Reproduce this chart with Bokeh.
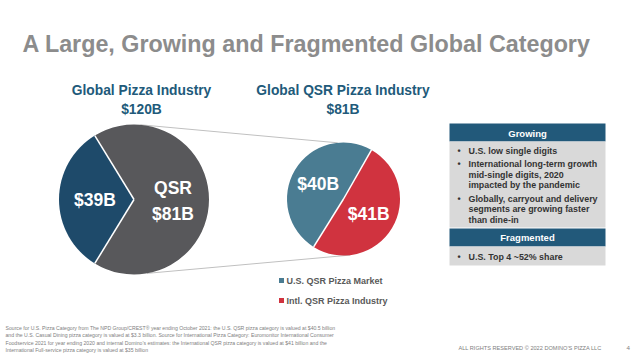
import numpy as np
from bokeh.plotting import figure
from bokeh.models import Range1d, Label, ColumnDataSource
from bokeh.embed import file_html
from bokeh.resources import INLINE

W, H = 640, 356

# ---------------- data ----------------
title_text = "A Large, Growing and Fragmented Global Category"
global_title = ["Global Pizza Industry", "$120B"]
global_labels = ["Casual Dining", "QSR"]
global_values = [39, 81]
qsr_title = ["Global QSR Pizza Industry", "$81B"]
qsr_labels = ["U.S. QSR Pizza Market", "Intl. QSR Pizza Industry"]
qsr_values = [40, 41]
growing_header = "Growing"
growing_items = [
    ["U.S. low single digits"],
    ["International long-term growth", "mid-single digits, 2020", "impacted by the pandemic"],
    ["Globally, carryout and delivery", "segments are growing faster", "than dine-in"],
]
fragmented_header = "Fragmented"
fragmented_items = [["U.S. Top 4 ~52% share"]]
footnote_lines = [
    "Source for U.S. Pizza Category from The NPD Group/CREST\u00ae  year ending October 2021: the U.S. QSR pizza category is valued at $40.5 billion",
    "and the U.S. Casual Dining pizza category is valued at $3.3 billion. Source for International Pizza Category: Euromonitor International Consumer",
    "Foodservice 2021 for year ending 2020 and internal Domino\u2019s estimates: the International QSR pizza category is valued at $41 billion and the",
    "International Full-service pizza category is valued at $35 billion",
]
copyright_text = "ALL RIGHTS RESERVED \u00a9 2022 DOMINO\u2019S PIZZA LLC"
page_number = "4"

# ---------------- style ----------------
FONT = "Liberation Sans"
TITLE_GRAY = "#8c8c8c"
SUB_BLUE = "#215a7a"
global_colors = ["#1e4a6a", "#58585b"]
qsr_colors = ["#4a7c92", "#d0333f"]
HEAD_BLUE = "#22597a"
BODY_GRAY = "#d9d9d9"
TEXT_DARK = "#333333"


def Y(y):
    return H - y


p = figure(width=W, height=H, x_range=Range1d(0, W), y_range=Range1d(0, H),
           output_backend="svg", toolbar_location=None, min_border=0)
p.axis.visible = False
p.grid.visible = False
p.outline_line_color = None
p.background_fill_color = "white"
p.border_fill_color = "white"


def label(x, y, text, size, color, bold=True, align="center", font=FONT):
    p.add_layout(Label(x=x, y=Y(y), text=text, text_font=font,
                       text_font_size=f"{size}px",
                       text_font_style="bold" if bold else "normal",
                       text_color=color, text_align=align,
                       text_baseline="middle"))


# title
label(22, 43, title_text, 23.3, TITLE_GRAY, align="left")

# ---------------- pies ----------------
def pie(cx, cy, r, values, colors, start_deg):
    vals = np.array(values, dtype=float)
    fr = vals / vals.sum()
    ends = np.deg2rad(start_deg) + np.cumsum(fr) * 2 * np.pi
    starts = ends - fr * 2 * np.pi
    src = ColumnDataSource(dict(start=starts, end=ends, color=colors))
    p.wedge(x=cx, y=Y(cy), radius=r, radius_units="screen",
            start_angle="start", end_angle="end", fill_color="color",
            line_color=None, source=src)
    # white separators
    p.segment(x0=[cx] * len(starts), y0=[Y(cy)] * len(starts),
              x1=list(cx + r * np.cos(starts)), y1=list(Y(cy) + r * np.sin(starts)),
              line_color="white", line_width=1.5)
    return (starts + ends) / 2


gcx, gcy, gr = 133.5, 199, 75
qcx, qcy, qr = 343, 198.5, 56.5

# connector lines (behind pies)
a1, a2 = np.deg2rad(85), np.deg2rad(96)
b1, b2 = np.deg2rad(-80), np.deg2rad(-83)
p.segment(x0=[gcx + gr * np.cos(a1), gcx + gr * np.cos(b1)],
          y0=[Y(gcy) + gr * np.sin(a1), Y(gcy) + gr * np.sin(b1)],
          x1=[qcx + qr * np.cos(a2), qcx + qr * np.cos(b2)],
          y1=[Y(qcy) + qr * np.sin(a2), Y(qcy) + qr * np.sin(b2)],
          line_color="#c0c0c0", line_width=1)

g_start = 180 - global_values[0] / sum(global_values) * 180
gm = pie(gcx, gcy, gr, global_values, global_colors, g_start)
qm = pie(qcx, qcy, qr, qsr_values, qsr_colors, 60.3)

# slice labels
PIE_FS = 17.5
lx = gcx + 0.52 * gr * np.cos(gm[0]); ly = gcy - 0.52 * gr * np.sin(gm[0])
label(lx, ly, f"${global_values[0]}B", PIE_FS, "white")
lx = gcx + 0.52 * gr * np.cos(gm[1]); ly = gcy - 0.52 * gr * np.sin(gm[1])
label(lx, ly - 12, "QSR", PIE_FS, "white")
label(lx, ly + 14, f"${global_values[1]}B", PIE_FS, "white")
for m, v in zip(qm, qsr_values):
    lx = qcx + 0.52 * qr * np.cos(m); ly = qcy - 0.52 * qr * np.sin(m)
    label(lx, ly, f"${v}B", PIE_FS, "white")

# pie titles
SUB_FS = 13.8
label(141, 90, global_title[0], SUB_FS, SUB_BLUE)
label(141, 109, global_title[1], SUB_FS, SUB_BLUE)
label(342.5, 90, qsr_title[0], SUB_FS, SUB_BLUE)
label(342.5, 109, qsr_title[1], SUB_FS, SUB_BLUE)

# legend
leg_y = [280, 300]
p.scatter(x=[281, 281], y=[Y(v) for v in leg_y], marker="square", size=5,
          fill_color=qsr_colors, line_color=None)
for yy, t in zip(leg_y, qsr_labels):
    label(286, yy, t, 9, "#595959", align="left")

# ---------------- right panel ----------------
bx0, bx1 = 449, 605
p.quad(left=[bx0, bx0, bx0, bx0], right=[bx1] * 4,
       top=[Y(123), Y(141), Y(228), Y(246)],
       bottom=[Y(141), Y(227), Y(246), Y(265)],
       fill_color=[HEAD_BLUE, BODY_GRAY, HEAD_BLUE, BODY_GRAY], line_color=None)
label((bx0 + bx1) / 2, 132.5, growing_header, 9.5, "white")
label((bx0 + bx1) / 2, 237, fragmented_header, 9.5, "white")

PANEL_FS = 8.9
line_y = [150, 163, 174, 184.5, 198, 208.8, 219.5]
k = 0
for item in growing_items:
    for j, t in enumerate(item):
        if j == 0:
            label(457, line_y[k], "\u2022", PANEL_FS, TEXT_DARK, align="left")
        label(468, line_y[k], t, PANEL_FS, TEXT_DARK, align="left")
        k += 1
for item in fragmented_items:
    label(457, 256.5, "\u2022", PANEL_FS, TEXT_DARK, align="left")
    label(468, 256.5, item[0], PANEL_FS, TEXT_DARK, align="left")

# ---------------- footer ----------------
for i, t in enumerate(footnote_lines):
    label(5, 327.5 + i * 7.4, t, 5.15, "#808080", bold=False, align="left")
label(458, 347, copyright_text, 5.6, "#808080", bold=False, align="left")
label(626, 347, page_number, 6.2, "#808080", bold=False, align="left")

open("out.html", "w").write(file_html(p, INLINE))
